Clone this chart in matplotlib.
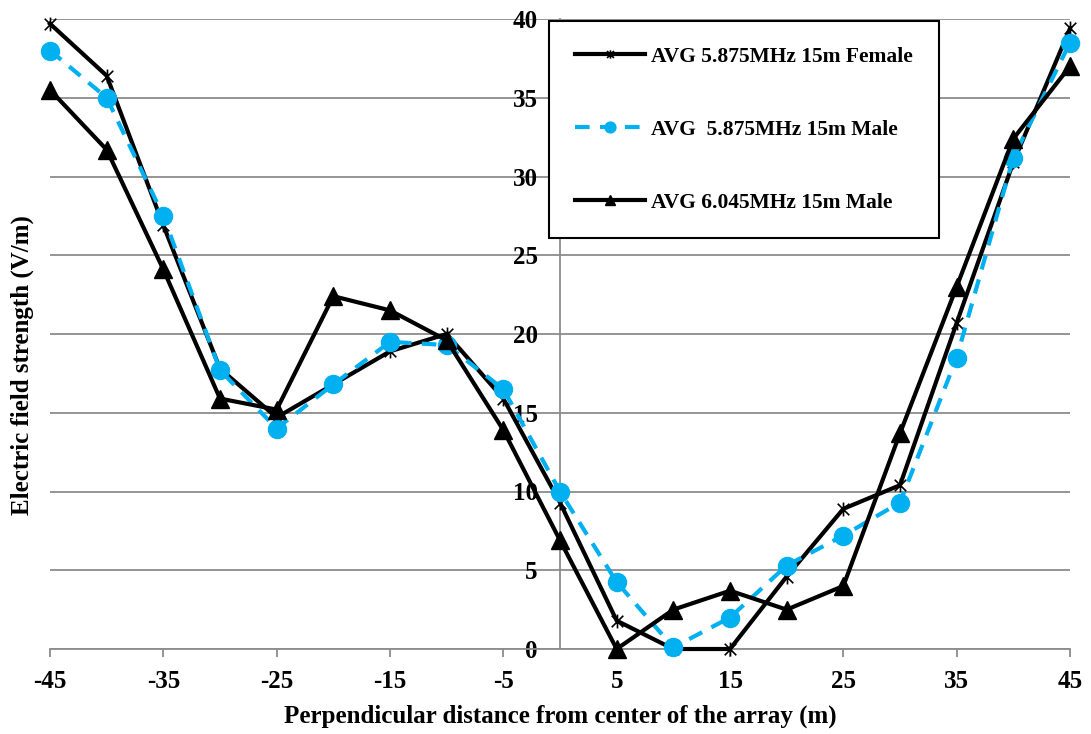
import matplotlib
matplotlib.use("Agg")
import matplotlib.pyplot as plt
from matplotlib.path import Path
import numpy as np

distance = [-45, -40, -35, -30, -25, -20, -15, -10, -5, 0, 5, 10, 15, 20, 25, 30, 35, 40, 45]
female_5875 = [39.7, 36.4, 26.9, 17.8, 14.7, 16.8, 18.9, 20.0, 15.9, 9.3, 1.8, 0.0, 0.0,
               4.6, 8.9, 10.4, 20.7, 30.9, 39.4]
male_5875 = [38.0, 35.0, 27.5, 17.7, 14.0, 16.8, 19.5, 19.3, 16.5, 10.0, 4.25, 0.1, 2.0,
             5.3, 7.2, 9.3, 18.5, 31.2, 38.5]
male_6045 = [35.5, 31.7, 24.1, 15.9, 15.2, 22.4, 21.5, 19.6, 13.9, 6.9, 0.0, 2.5, 3.7,
             2.5, 4.0, 13.7, 23.0, 32.4, 37.0]
labels = ["AVG 5.875MHz 15m Female", "AVG  5.875MHz 15m Male", "AVG 6.045MHz 15m Male"]
xticks = [-45, -35, -25, -15, -5, 5, 15, 25, 35, 45]
yticks = [0, 5, 10, 15, 20, 25, 30, 35, 40]

plt.rcParams['font.family'] = ['Liberation Serif', 'DejaVu Serif']
plt.rcParams['font.weight'] = 'bold'
plt.rcParams['axes.unicode_minus'] = False

# asterisk marker like Excel's star (x with a vertical bar)
star = Path([(-1, -1), (1, 1), (-1, 1), (1, -1), (0, -1.2), (0, 1.2)],
            [Path.MOVETO, Path.LINETO, Path.MOVETO, Path.LINETO, Path.MOVETO, Path.LINETO])

fig = plt.figure(figsize=(10.91, 7.34), dpi=100)
ax = fig.add_axes([50 / 1091, 1 - 649 / 734, 1020 / 1091, 630 / 734])

grey = '#8c8c8c'
ax.set_xlim(-45, 45)
ax.set_ylim(0, 40)
ax.set_yticks(yticks)
ax.set_xticks(xticks)
ax.grid(axis='y', color=grey, lw=1.3)
ax.set_axisbelow(True)

for s in ['top', 'right']:
    ax.spines[s].set_visible(False)
ax.spines['left'].set_position(('data', 0))
ax.spines['left'].set_color(grey)
ax.spines['left'].set_linewidth(1.3)
ax.spines['bottom'].set_color(grey)
ax.spines['bottom'].set_linewidth(1.3)

ax.tick_params(axis='x', direction='out', length=6, width=1.3, color=grey, pad=9, labelsize=18)
ax.tick_params(axis='y', length=0, pad=16, labelsize=18)
for t in ax.get_xticklabels() + ax.get_yticklabels():
    t.set_fontweight('bold')

ax.plot(distance, female_5875, color='black', lw=3, marker=star, ms=10,
        mfc='none', mec='black', mew=1.2, clip_on=False, label=labels[0], zorder=3)
ax.plot(distance, male_5875, color='#00b0f0', lw=3, ls=(0, (3.5, 2.5)), marker='o', ms=13,
        mfc='#00b0f0', mec='#00b0f0', clip_on=False, label=labels[1], zorder=3)
ax.plot(distance, male_6045, color='black', lw=3, marker='^', ms=13,
        mfc='black', mec='black', clip_on=False, label=labels[2], zorder=3)

leg = ax.legend(loc='upper left', bbox_to_anchor=(549 / 1091, 1 - 21 / 734),
                bbox_transform=fig.transFigure, fancybox=False, framealpha=1,
                edgecolor='black', prop={'family': 'Liberation Serif', 'weight': 'bold', 'size': 15.5},
                handlelength=3.25, handletextpad=0.3, labelspacing=2.45,
                borderpad=1.2, borderaxespad=0, markerscale=0.6)
leg.get_frame().set_linewidth(1.5)

fig.text(560 / 1091, 1 - 716 / 734, "Perpendicular distance from center of the array (m)",
         ha='center', va='center', fontsize=18, fontweight='bold')
fig.text(22 / 1091, 1 - 365 / 734, "Electric field strength (V/m)",
         ha='center', va='center', rotation=90, fontsize=18, fontweight='bold')

fig.savefig("out.png", dpi=100)
